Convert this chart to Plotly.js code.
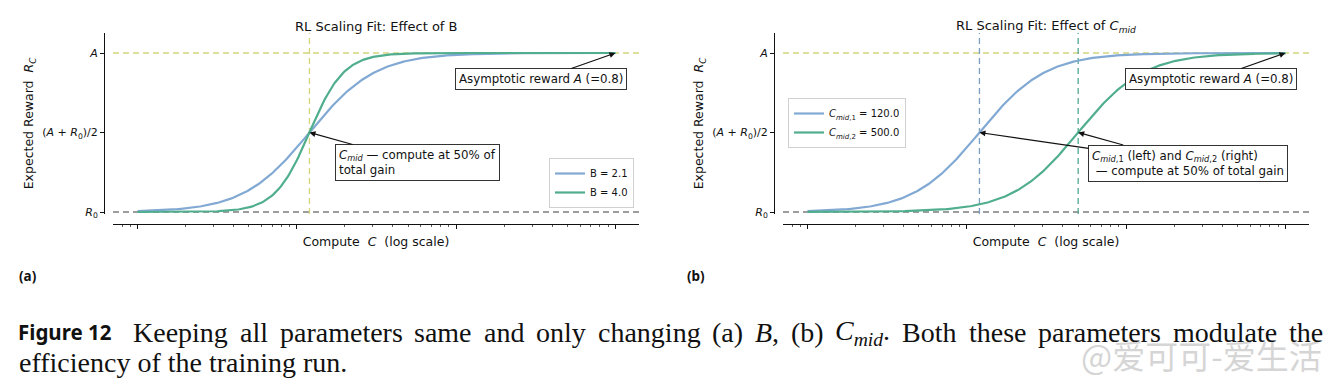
<!DOCTYPE html>
<html><head><meta charset="utf-8">
<script src="https://cdn.plot.ly/plotly-3.0.1.min.js"></script>
<style>html,body{margin:0;padding:0;background:#fff}#chart{width:1338px;height:385px}</style>
</head><body><div id="chart"></div>
<script>
// ---------------- data ----------------
const A = 0.8;            // asymptotic reward
const R0 = 0.2;           // initial reward
const computeDecades = [1, 4];          // compute C from 10^1 to 10^4
const panelA_B = [2.1, 4.0];            // panel (a): B values
const panelA_Cmid = 120;                // panel (a): shared C_mid
const panelB_Cmid = [120, 500];         // panel (b): C_mid values
const panelB_B = 2.1;                   // panel (b): shared B
const majorTicksC = [10, 100, 1000, 10000];
const yTickText = ['<i>R</i><sub>0</sub>', '(<i>A</i> + <i>R</i><sub>0</sub>)/2', '<i>A</i>'];
const legendA = ['B = 2.1', 'B = 4.0'];
const legendB = ['<i>C</i><sub><i>mid</i>,1</sub> = 120.0', '<i>C</i><sub><i>mid</i>,2</sub> = 500.0'];

// ---------------- helpers ----------------
const N = 301;
const C = [];
for (let i = 0; i < N; i++) C.push(Math.pow(10, computeDecades[0] + (computeDecades[1] - computeDecades[0]) * i / (N - 1)));
const sigmoid = (c, B, Cmid) => R0 + (A - R0) / (1 + Math.pow(Cmid / c, B));

const BLUE = '#82a9d3', GREEN = '#50ae8e', YEL = '#d2d57c', GRAY = '#7d7d7d';
const minorC = [8, 9];
for (const d of [10, 100, 1000]) for (let m = 2; m <= 9; m++) minorC.push(m * d);

const W = 1338, H = 385;
const px = v => v / W, py = v => (H - v) / H;
const FONT = 'DejaVu Sans';

// ---------------- traces ----------------
const traces = [];
panelA_B.forEach((B, i) => traces.push({
  x: C, y: C.map(c => sigmoid(c, B, panelA_Cmid)), type: 'scatter', mode: 'lines',
  xaxis: 'x', yaxis: 'y', name: legendA[i], legend: 'legend',
  line: {color: i === 0 ? BLUE : GREEN, width: 2.2}, hoverinfo: 'skip'
}));
panelB_Cmid.forEach((cm, i) => traces.push({
  x: C, y: C.map(c => sigmoid(c, panelB_B, cm)), type: 'scatter', mode: 'lines',
  xaxis: 'x2', yaxis: 'y2', name: legendB[i], legend: 'legend2',
  line: {color: i === 0 ? BLUE : GREEN, width: 2.2}, hoverinfo: 'skip'
}));

// ---------------- axes ----------------
const xr = [0.846, 4.148];
const yr = [0.1925, 0.8755];
function xAxis(domain) {
  return {
    type: 'log', domain: domain, range: xr, anchor: 'free', position: py(224),
    showline: true, linecolor: '#111', linewidth: 1.3, showgrid: false, zeroline: false,
    ticks: 'outside', ticklen: 4, tickwidth: 1, tickcolor: '#111',
    tickmode: 'array', tickvals: majorTicksC, showticklabels: false,
    minor: {ticks: 'outside', ticklen: 2, tickwidth: 0.8, tickcolor: '#333', tickmode: 'array', tickvals: minorC, showgrid: false},
    title: {text: 'Compute\u00a0\u00a0<i>C</i>\u00a0\u00a0(log scale)', font: {family: FONT, size: 12.5, color: '#111'}, standoff: 9}
  };
}
function yAxis(pos) {
  return {
    domain: [py(214), py(33)], range: yr, anchor: 'free', position: pos,
    showline: true, linecolor: '#111', linewidth: 1.3, showgrid: false, zeroline: false,
    ticks: 'outside', ticklen: 4, tickwidth: 1, tickcolor: '#111',
    tickmode: 'array', tickvals: [R0, (A + R0) / 2, A], ticktext: yTickText,
    tickfont: {family: FONT, size: 11, color: '#111'},
    title: {text: 'Expected Reward\u00a0\u00a0<i>R</i><sub><i>C</i></sub>', font: {family: FONT, size: 12.5, color: '#111'}, standoff: 4}
  };
}

// ---------------- shapes ----------------
const dash = '6px,4px';
const shapes = [];
[['x', 'y'], ['x2', 'y2']].forEach(([xa, ya]) => {
  shapes.push({type: 'line', layer: 'below', xref: xa + ' domain', x0: 0, x1: 1, yref: ya, y0: A, y1: A, line: {color: YEL, width: 1.3, dash}});
  shapes.push({type: 'line', layer: 'below', xref: xa + ' domain', x0: 0, x1: 1, yref: ya, y0: R0, y1: R0, line: {color: GRAY, width: 1.3, dash}});
});
shapes.push({type: 'line', layer: 'below', xref: 'x', x0: panelA_Cmid, x1: panelA_Cmid, yref: 'y domain', y0: 0, y1: 1, line: {color: YEL, width: 1.3, dash}});
panelB_Cmid.forEach((cm, i) => shapes.push({type: 'line', layer: 'below', xref: 'x2', x0: cm, x1: cm, yref: 'y2 domain', y0: 0, y1: 1, line: {color: i === 0 ? '#7c9fc0' : '#52a894', width: 1.3, dash}}));

// ---------------- annotations ----------------
const boxFont = {family: FONT, size: 11.8, color: '#111'};
const box = {bgcolor: '#fff', bordercolor: '#333', borderwidth: 1, borderpad: 3, showarrow: true, arrowhead: 2, arrowsize: 1, arrowwidth: 1.2, arrowcolor: '#111', font: boxFont};
const L = Math.log10;
const cmidTextB = '<i>C</i><sub><i>mid</i>,1</sub> (left) and <i>C</i><sub><i>mid</i>,2</sub> (right)<br>\u00a0— compute at 50% of total gain';
const txt = (text, x, y, font, xanchor) => ({text, xref: 'paper', yref: 'paper', x: px(x), y: py(y), xanchor: xanchor || 'center', yanchor: 'middle', showarrow: false, font});
const ann = [
  txt('RL Scaling Fit: Effect of B', 376, 26, {family: FONT, size: 13, color: '#111'}),
  txt('RL Scaling Fit: Effect of <i>C</i><sub><i>mid</i></sub>', 1046, 26, {family: FONT, size: 13, color: '#111'}),
  Object.assign({}, box, {text: 'Asymptotic reward <i>A</i> (=0.8)', xref: 'x', yref: 'y', x: L(majorTicksC[3]), y: A, ax: -74, ay: 26}),
  Object.assign({}, box, {text: '<i>C</i><sub><i>mid</i></sub> — compute at 50% of<br>total gain', align: 'left', xref: 'x', yref: 'y', x: L(panelA_Cmid), y: (A + R0) / 2, ax: 108, ay: 30}),
  Object.assign({}, box, {text: 'Asymptotic reward <i>A</i> (=0.8)', xref: 'x2', yref: 'y2', x: L(majorTicksC[3]), y: A, ax: -74, ay: 26}),
  Object.assign({}, box, {text: cmidTextB, align: 'left', xref: 'x2', yref: 'y2', x: L(panelB_Cmid[1]), y: (A + R0) / 2, ax: 110, ay: 30.5,
    bgcolor: 'rgba(0,0,0,0)', bordercolor: 'rgba(0,0,0,0)', font: Object.assign({}, boxFont, {color: 'rgba(0,0,0,0)'})}),
  Object.assign({}, box, {text: cmidTextB, align: 'left', xref: 'x2', yref: 'y2', x: L(panelB_Cmid[0]), y: (A + R0) / 2, ax: 208.6, ay: 30.5}),
  txt('<b>(a)</b>', 17, 276, {family: 'Noto Sans', size: 13.5, color: '#111'}, 'left'),
  txt('<b>(b)</b>', 685, 276, {family: 'Noto Sans', size: 13.5, color: '#111'}, 'left'),
  txt('<b>Figure 12</b>', 16, 332, {family: 'Noto Sans', size: 20.5, color: '#111'}, 'left'),
  txt('efficiency of the training run.', 17, 362, {family: 'Liberation Serif', size: 28, color: '#111'}, 'left'),
  txt('@爱可可-爱生活', 1324, 355, {family: 'Noto Sans CJK SC', size: 33, color: 'rgba(185,185,185,0.6)'}, 'right')
];

// justified first caption line
const capWords = ['Keeping', 'all', 'parameters', 'same', 'and', 'only', 'changing', '(a)', '<i>B</i>,', '(b)', '<i>C</i><sub><i>mid</i></sub>.', 'Both', 'these', 'parameters', 'modulate', 'the'];
const capSize = 28;
const cv = document.createElement('canvas').getContext('2d');
function measure(html) {
  let w = 0;
  html.split(/(<sub>.*?<\/sub>)/).forEach(p => {
    if (!p) return;
    const isSub = p.startsWith('<sub>');
    const italic = /<i>/.test(p);
    const plain = p.replace(/<[^>]+>/g, '');
    cv.font = (italic ? 'italic ' : '') + (isSub ? capSize * 0.7 : capSize) + 'px "Liberation Serif"';
    w += cv.measureText(plain).width;
  });
  return w;
}
const widths = capWords.map(measure);
const x0 = 133, x1 = 1323;
const gap = (x1 - x0 - widths.reduce((a, b) => a + b, 0)) / (capWords.length - 1);
let cx = x0;
capWords.forEach((w, i) => {
  const a = txt(capWords[i], cx - 1, 332, {family: 'Liberation Serif', size: capSize, color: '#111'}, 'left');
  a.borderpad = 0;
  ann.push(a);
  cx += widths[i] + gap;
});

// ---------------- layout ----------------
const legendCommon = {bgcolor: 'rgba(255,255,255,0.85)', bordercolor: '#d0d0d0', borderwidth: 1, font: {family: FONT, size: 10, color: '#111'}, tracegroupgap: 0, itemwidth: 30};
const layout = {
  width: W, height: H, margin: {l: 0, r: 0, t: 0, b: 0}, paper_bgcolor: '#fff', plot_bgcolor: '#fff',
  showlegend: true,
  xaxis: xAxis([px(113), px(639)]),
  yaxis: yAxis(px(104)),
  xaxis2: xAxis([px(783), px(1309)]),
  yaxis2: yAxis(px(774)),
  legend: Object.assign({}, legendCommon, {x: px(634), xanchor: 'right', y: py(208), yanchor: 'bottom'}),
  legend2: Object.assign({}, legendCommon, {x: px(788), xanchor: 'left', y: py(98), yanchor: 'top'}),
  shapes: shapes,
  annotations: ann
};
Plotly.newPlot('chart', traces, layout, {staticPlot: true});
</script>
</body></html>
